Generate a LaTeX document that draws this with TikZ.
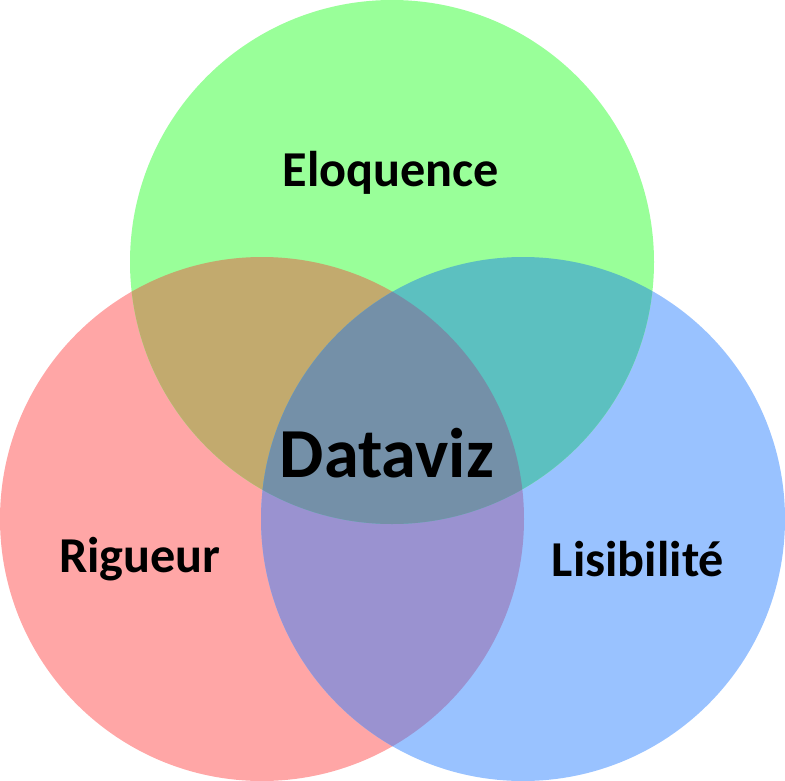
\documentclass[tikz,border=0pt]{standalone}
\usepackage{fontspec}
\setmainfont{Carlito}
\usetikzlibrary{positioning}
\definecolor{vert}{HTML}{99FF99}
\definecolor{rouge}{HTML}{FFA6A6}
\definecolor{bleu}{HTML}{99C2FF}
\definecolor{olive}{HTML}{C2AA6E}
\definecolor{turquoise}{HTML}{5CC0C0}
\definecolor{violet}{HTML}{9A92D0}
\definecolor{centre}{HTML}{7490A8}
\tikzset{
  label/.style={font=\bfseries\fontsize{28.6}{34}\selectfont, text=black},
  biglabel/.style={font=\bfseries\fontsize{40}{48}\selectfont, text=black}
}
\begin{document}
\begin{tikzpicture}[x=0.02cm, y=-0.02cm]
    \useasboundingbox (0,0) rectangle (785,781);
    % cercles
    \fill[rouge] (262,519) circle (262);
    \fill[bleu] (523,519) circle (262);
    \fill[vert] (392,262) circle (262);
    % intersections
    \begin{scope}
        \clip (262,519) circle (262);
        \fill[olive] (392,262) circle (262);
        \fill[violet] (523,519) circle (262);
    \end{scope}
    \begin{scope}
        \clip (523,519) circle (262);
        \fill[turquoise] (392,262) circle (262);
    \end{scope}
    \begin{scope}
        \clip (262,519) circle (262);
        \clip (523,519) circle (262);
        \fill[centre] (392,262) circle (262);
    \end{scope}
    % textes
    \node[label] (eloquence) at (391,173) {Eloquence};
    \node[label] (rigueur) at (140,559) {Rigueur};
    \node[label] (lisibilite) at (638,559) {Lisibilité};
    \node[biglabel] (dataviz) at (387,453) {Dataviz};
\end{tikzpicture}
\end{document}
